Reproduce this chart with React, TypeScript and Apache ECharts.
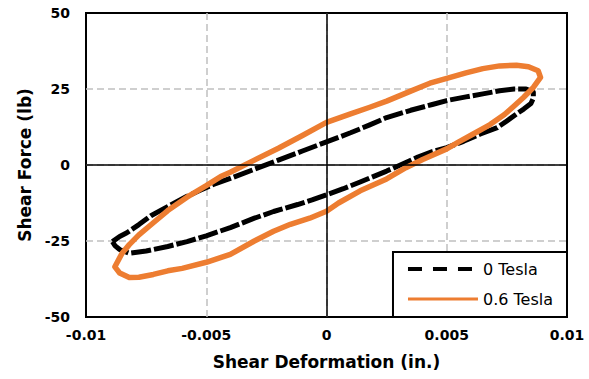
import React, { useEffect, useRef } from "react";
import * as echarts from "echarts";

const seriesNames = ["0 Tesla", "0.6 Tesla"];

const zeroTeslaX = [
  -0.0089, -0.0086, -0.0083, -0.0078, -0.0073, -0.0068, -0.0064, -0.0058, -0.0053, -0.0047,
  -0.004, -0.003, -0.002, -0.001, 0, 0.001, 0.0018, 0.0025, 0.0035, 0.0044,
  0.005, 0.0058, 0.0065, 0.0072, 0.0078, 0.0083, 0.0086, 0.0086, 0.0085, 0.0082,
  0.0079, 0.0075, 0.0071, 0.0064, 0.0057, 0.005, 0.0044, 0.0038, 0.0033, 0.0025,
  0.0014, 0.0007, 0, -0.0006, -0.0012, -0.0022, -0.003, -0.004, -0.005, -0.0058,
  -0.0066, -0.0075, -0.0082, -0.0086, -0.0088, -0.0089,
];
const zeroTeslaY = [
  -25.2, -23.5, -22.3, -19.6, -16.7, -14.5, -12.8, -10.3, -8.5, -6.4,
  -4.4, -1.4, 1.6, 4.6, 7.6, 10.6, 13.2, 15.6, 18, 19.9,
  21.2, 22.4, 23.4, 24.4, 25, 25, 24, 22, 20.2, 18.4,
  16.8, 14.5, 12.3, 10.2, 7.8, 5.7, 4.4, 2.6, 0.8, -2,
  -5.6, -7.8, -9.8, -11.5, -13, -15.3, -17.5, -20.6, -23.3, -25.2,
  -26.8, -28.3, -29, -27.8, -26.5, -25.2,
];

const sixTeslaX = [
  -0.0087, -0.0085, -0.0082, -0.0078, -0.0072, -0.0066, -0.0058, -0.005, -0.0044, -0.004,
  -0.003, -0.002, -0.001, 0, 0.001, 0.0018, 0.0025, 0.0035, 0.0043, 0.005,
  0.0058, 0.0065, 0.0072, 0.0079, 0.0084, 0.0088, 0.0089, 0.0086, 0.0082, 0.0078,
  0.0074, 0.0068, 0.0061, 0.0055, 0.005, 0.004, 0.0033, 0.0025, 0.0014, 0.0005,
  0, -0.0007, -0.0015, -0.0022, -0.003, -0.004, -0.005, -0.006, -0.0066, -0.0072,
  -0.0078, -0.0082, -0.0086, -0.0088, -0.0087,
];
const sixTeslaY = [
  -32, -29, -26.2, -23, -19, -15, -10.6, -6.8, -3.8, -2.4,
  1.6, 5.5, 9.7, 14, 16.8, 19, 21, 24.3, 26.9, 28.5,
  30.3, 31.7, 32.6, 32.8, 32.3, 31, 28.8, 25.5, 22.3, 19.4,
  16.6, 13.3, 10.2, 7.6, 5.3, 1.8, -0.9, -4.6, -8.5, -12.5,
  -15.2, -17.5, -19.5, -21.8, -25, -29.4, -32, -34, -34.8, -36,
  -36.9, -37, -35.5, -33.5, -32,
];

const xTicks = { min: -0.01, max: 0.01, interval: 0.005 };
const yTicks = { min: -50, max: 50, interval: 25 };

const zip = (xs: number[], ys: number[]) => xs.map((x, i) => [x, ys[i]]);

export default function App() {
  const ref = useRef<HTMLDivElement>(null);
  useEffect(() => {
    if (!ref.current) return;
    const chart = echarts.init(ref.current, undefined, { renderer: "svg" });
    const font = "DejaVu Sans";
    const splitLine = {
      show: true,
      showMinLine: false,
      showMaxLine: false,
      lineStyle: { color: "#c0c0c0", width: 1.5, type: [7, 4] as any },
    };
    chart.setOption({
      animation: false,
      grid: {
        left: 86,
        right: 22,
        top: 13,
        bottom: 62,
        show: true,
        borderColor: "#000",
        borderWidth: 2,
        backgroundColor: "transparent",
      },
      xAxis: {
        type: "value",
        min: xTicks.min,
        max: xTicks.max,
        interval: xTicks.interval,
        name: "Shear Deformation (in.)",
        nameLocation: "middle",
        nameGap: 36,
        nameTextStyle: { fontFamily: font, fontWeight: "bold", fontSize: 17, color: "#000" },
        axisLine: { show: false, onZero: false },
        axisTick: { show: false },
        axisLabel: {
          margin: 11,
          fontFamily: font,
          fontWeight: "bold",
          fontSize: 14,
          color: "#000",
          formatter: (v: number) => String(+v.toFixed(3)),
        },
        splitLine,
      },
      yAxis: {
        type: "value",
        min: yTicks.min,
        max: yTicks.max,
        interval: yTicks.interval,
        name: "Shear Force (lb)",
        nameLocation: "middle",
        nameGap: 53,
        nameTextStyle: { fontFamily: font, fontWeight: "bold", fontSize: 17, color: "#000" },
        axisLine: { show: false, onZero: false },
        axisTick: { show: false },
        axisLabel: {
          margin: 16,
          fontFamily: font,
          fontWeight: "bold",
          fontSize: 14,
          color: "#000",
        },
        splitLine,
      },
      legend: {
        orient: "vertical",
        right: 22,
        bottom: 62,
        backgroundColor: "#fff",
        borderColor: "#000",
        borderWidth: 2,
        borderRadius: 0,
        padding: [9, 14, 10, 13],
        itemWidth: 70,
        itemHeight: 16,
        itemGap: 14,
        textStyle: { fontFamily: font, fontSize: 16, color: "#000" },
        data: [
          {
            name: seriesNames[0],
            itemStyle: { opacity: 0 },
            lineStyle: { type: [14, 11], width: 4, color: "#000" },
          },
          {
            name: seriesNames[1],
            itemStyle: { opacity: 0 },
            lineStyle: { type: "solid", width: 3, color: "#ED7D31" },
          },
        ],
      },
      series: [
        {
          name: "zero",
          type: "line",
          data: [],
          z: 1,
          silent: true,
          markLine: {
            silent: true,
            symbol: "none",
            label: { show: false },
            lineStyle: { color: "#000", width: 1.5, type: "solid" },
            data: [{ xAxis: 0 }, { yAxis: 0 }],
          },
        },
        {
          name: seriesNames[0],
          type: "line",
          data: zip(zeroTeslaX, zeroTeslaY),
          symbol: "none",
          z: 2,
          lineStyle: { color: "#000", width: 5, type: [20, 3], join: "round" },
          itemStyle: { color: "#000" },
        },
        {
          name: seriesNames[1],
          type: "line",
          data: zip(sixTeslaX, sixTeslaY),
          symbol: "none",
          z: 3,
          lineStyle: { color: "#ED7D31", width: 5.5, type: "solid", join: "round" },
          itemStyle: { color: "#ED7D31" },
        },
      ],
    });
    return () => chart.dispose();
  }, []);
  return (
    <div
      ref={ref}
      style={{ position: "fixed", left: 0, top: 0, width: 589, height: 379, background: "#fff" }}
    />
  );
}
